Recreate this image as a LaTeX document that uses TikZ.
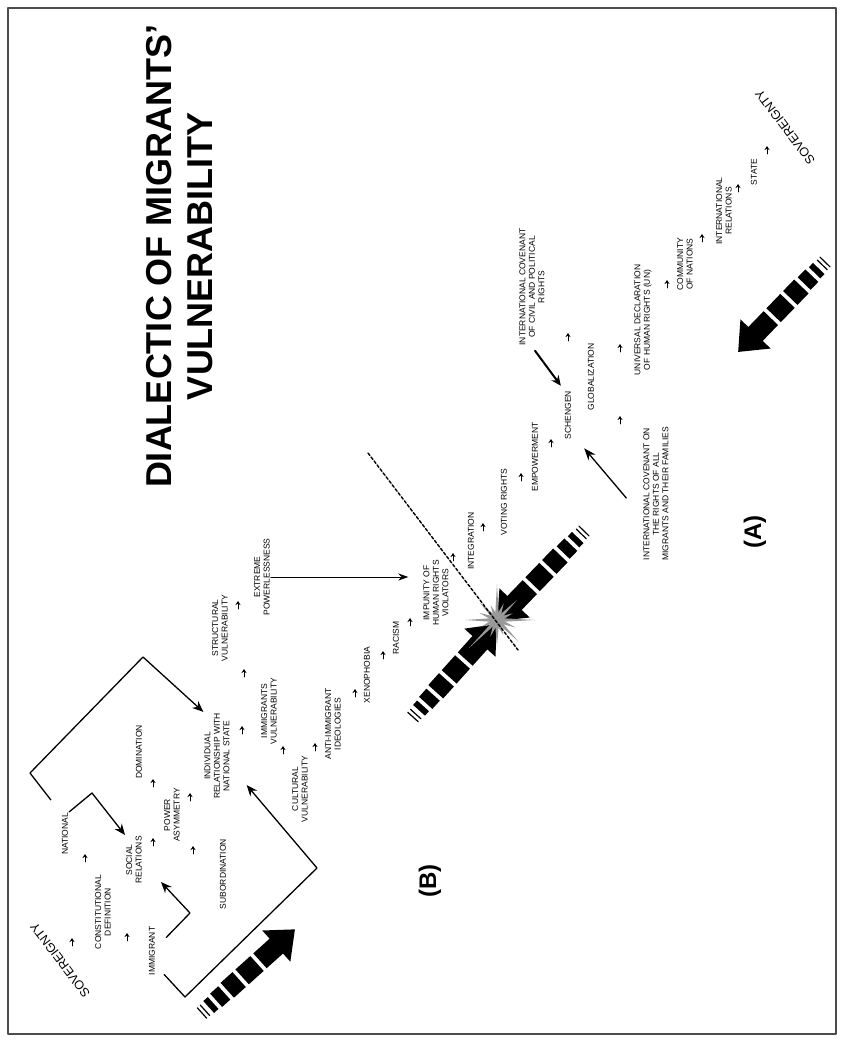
\documentclass[tikz,border=0pt]{standalone}
\usepackage{fontspec}
\setmainfont{Liberation Sans}
\usetikzlibrary{arrows.meta}

\tikzset{
  lbl/.style={rotate=90, align=center, inner sep=1pt, font=\fontsize{8.5}{9.5}\selectfont},
  sov/.style={rotate=127, inner sep=1pt, font=\fontsize{12.5}{14}\selectfont},
  letter/.style={rotate=90, inner sep=1pt, font=\fontsize{24}{28}\bfseries},
  tickarrow/.style={line width=0.8pt, -{Stealth[length=4pt,width=5pt]}},
  link/.style={line width=1.3pt, -{Stealth[length=11pt,width=9pt]}},
}

\newcommand{\blockarrow}[2]{%
  \begin{scope}[shift={#1}, rotate=#2]
    \draw[line width=1.2pt] (0,-7) -- (0,7) (4,-7) -- (4,7);
    \fill (9,-8) rectangle (15,8);
    \fill (19,-9) rectangle (30,9);
    \fill (34,-10) rectangle (50,10);
    \fill (54,-10) rectangle (74,10);
    \fill (78,-10) -- (100,-10) -- (100,-21) -- (125,0) -- (100,21) -- (100,10) -- (78,10) -- cycle;
  \end{scope}}

\begin{document}
\begin{tikzpicture}[x=1pt, y=-1pt, line cap=round, line join=round]
  \useasboundingbox (0,0) rectangle (844,1041);
  \fill[white] (0,0) rectangle (844,1041);
  \draw[line width=1.2pt, black!70] (8,8) rectangle (836,1034);

  \node[rotate=90, align=center, inner sep=0pt, font=\fontsize{36}{41}\bfseries] (title) at (180,256)
    {DIALECTIC OF MIGRANTS’\\VULNERABILITY};

  % (A)
  \node[sov] (sovA) at (785,127) {SOVEREIGNTY};
  \node[lbl] (state) at (754,172) {STATE};
  \node[lbl] (intrel) at (724,211) {INTERNATIONAL\\RELATIONS};
  \node[lbl] (community) at (685,264) {COMMUNITY\\OF NATIONS};
  \node[lbl] (udhr) at (643,320) {UNIVERSAL DECLARATION\\OF HUMAN RIGHTS (UN)};
  \node[lbl] (glob) at (591,377) {GLOBALIZATION};
  \node[lbl] (iccpr) at (532,287) {INTERNATIONAL COVENANT\\OF CIVIL AND POLITICAL\\RIGHTS};
  \node[lbl] (schengen) at (568,415) {SCHENGEN};
  \node[lbl] (empower) at (535,457) {EMPOWERMENT};
  \node[lbl] (voting) at (504,502) {VOTING RIGHTS};
  \node[lbl] (integ) at (471,541) {INTEGRATION};
  \node[lbl] (icrmw) at (656,494) {INTERNATIONAL COVENANT ON\\THE RIGHTS OF ALL\\MIGRANTS AND THEIR FAMILIES};
  \node[letter] (labA) at (755,532) {(A)};

  % (B)
  \node[lbl] (impunity) at (436,593) {IMPUNITY OF\\HUMAN RIGHTS\\VIOLATORS};
  \node[lbl] (racism) at (396,638) {RACISM};
  \node[lbl] (xeno) at (367,675) {XENOPHOBIA};
  \node[lbl] (anti) at (333,724) {ANTI-IMMIGRANT\\IDEOLOGIES};
  \node[lbl] (cultural) at (300,789) {CULTURAL\\VULNERABILITY};
  \node[lbl] (immvul) at (269,711) {IMMIGRANTS\\VULNERABILITY};
  \node[lbl] (structural) at (220,628) {STRUCTURAL\\VULNERABILITY};
  \node[lbl] (extreme) at (262,577) {EXTREME\\POWERLESSNESS};
  \node[lbl] (individual) at (217,756) {INDIVIDUAL\\RELATIONSHIP WITH\\NATIONAL STATE};
  \node[lbl] (domination) at (139,752) {DOMINATION};
  \node[lbl] (power) at (172,815) {POWER\\ASYMMETRY};
  \node[lbl] (social) at (134,860) {SOCIAL\\RELATIONS};
  \node[lbl] (subord) at (223,874) {SUBORDINATION};
  \node[lbl] (national) at (65,834) {NATIONAL};
  \node[lbl] (constdef) at (103,912) {CONSTITUTIONAL\\DEFINITION};
  \node[lbl] (immigrant) at (152,951) {IMMIGRANT};
  \node[sov] (sovB) at (60,960) {SOVEREIGNTY};
  \node[letter] (labB) at (430,881) {(B)};

  \foreach \mx/\my in {767/150, 738/188, 702/238, 667/284, 620/348, 620/420, 568/337, 551/443,
      521/477, 483/527, 453/557, 410/622, 383/655, 355/693, 315/747, 283/750, 242/730, 244/673,
      238/605, 190/797, 193/850, 153/842, 153/783, 127/937, 85/858, 72/942}
    \draw[tickarrow] (\mx,\my+4) -- (\mx,\my-4);

  \blockarrow{(825,262)}{226}
  \blockarrow{(584,531)}{226}
  \blockarrow{(202,1013)}{42}
  \blockarrow{(413,717)}{48}

  \foreach \a/\r in {0/38, 22/20, 45/30, 67/16, 90/26, 112/18, 135/40, 157/17,
      180/32, 202/19, 225/24, 247/16, 270/36, 292/18, 315/28, 337/17}
    \fill[black!40] (497,620) -- ([shift={(\a-14:7)}]497,620) -- ([shift={(\a:\r)}]497,620)
      -- ([shift={(\a+14:7)}]497,620) -- cycle;
  \fill[black!40] (497,620) circle (7);

  \draw[line width=1.4pt, dash pattern=on 3pt off 2pt] (368,453) -- (518,650);

  \draw[line width=1pt, -{Stealth[length=10pt,width=7pt]}, shorten >=14pt] (extreme.south) -- (impunity.north |- extreme.south);
  \draw[line width=2pt, -{Stealth[length=10pt,width=9pt]}, shorten <=5pt, shorten >=5pt] (iccpr.west) -- (schengen.north east);
  \draw[line width=1.3pt, -{Stealth[length=12pt,width=9pt]}] ([shift={(-16,4)}]icrmw.north) -- ([shift={(12,8)}]schengen.south west);
  \draw[link] (national.south east) -- (92,793) -- (social.north east);
  \draw[link] ([shift={(10,12)}]immigrant.south east) -- (190,913) -- ([shift={(18,22)}]social.south);
  \draw[link] ([shift={(-10,-12)}]national.north east) -- (30,773) -- (143,657) -- (individual.north east);
  \draw[link] ([shift={(8,-2)}]immigrant.south west) -- (185,997) -- (317,868) -- ([shift={(16,-15)}]individual.south west);
\end{tikzpicture}
\end{document}
